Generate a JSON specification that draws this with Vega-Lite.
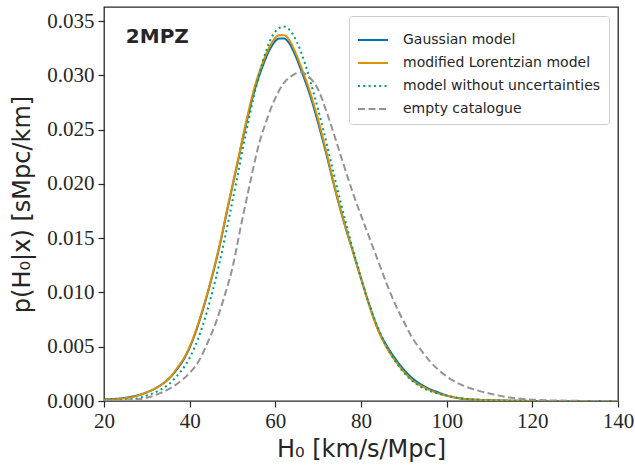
{
  "$schema": "https://vega.github.io/schema/vega-lite/v6.json",
  "width": 514,
  "height": 394,
  "autosize": "none",
  "padding": {"left": 104, "top": 7, "right": 17, "bottom": 68},
  "background": "white",
  "config": {
    "view": {"stroke": "#262626", "strokeWidth": 1.3},
    "axis": {"labelFont": "Liberation Serif", "labelFontSize": 21, "labelColor": "#262626", "tickColor": "#262626", "tickSize": 6, "tickWidth": 1.2, "domain": false, "grid": false, "titleFont": "DejaVu Sans", "titleFontSize": 24, "titleFontWeight": "normal", "titleColor": "#262626"},
    "legend": {"orient": "top-right", "offset": 9, "symbolType": "stroke", "symbolStrokeWidth": 2, "symbolSize": 900, "rowPadding": -5, "labelOffset": 14, "labelLimit": 0, "labelFont": "DejaVu Sans", "labelFontSize": 14, "labelColor": "#262626", "fillColor": "white", "strokeColor": "#cccccc", "cornerRadius": 3, "padding": 8}
  },
  "layer": [
    {
      "data": {"values": [
        {"s": "Gaussian model", "H": 20, "p": 0.00015},
        {"s": "Gaussian model", "H": 24, "p": 0.00025},
        {"s": "Gaussian model", "H": 27, "p": 0.00045},
        {"s": "Gaussian model", "H": 30, "p": 0.0008},
        {"s": "Gaussian model", "H": 33, "p": 0.0014},
        {"s": "Gaussian model", "H": 35, "p": 0.0020},
        {"s": "Gaussian model", "H": 37, "p": 0.0029},
        {"s": "Gaussian model", "H": 39, "p": 0.0041},
        {"s": "Gaussian model", "H": 41, "p": 0.0059},
        {"s": "Gaussian model", "H": 43, "p": 0.0083},
        {"s": "Gaussian model", "H": 45, "p": 0.0111},
        {"s": "Gaussian model", "H": 47, "p": 0.0143},
        {"s": "Gaussian model", "H": 49, "p": 0.0180},
        {"s": "Gaussian model", "H": 51, "p": 0.0216},
        {"s": "Gaussian model", "H": 53, "p": 0.0252},
        {"s": "Gaussian model", "H": 55, "p": 0.0284},
        {"s": "Gaussian model", "H": 57, "p": 0.0308},
        {"s": "Gaussian model", "H": 59, "p": 0.0326},
        {"s": "Gaussian model", "H": 61, "p": 0.0334},
        {"s": "Gaussian model", "H": 62, "p": 0.0334},
        {"s": "Gaussian model", "H": 63, "p": 0.0331},
        {"s": "Gaussian model", "H": 64.6, "p": 0.0319},
        {"s": "Gaussian model", "H": 66, "p": 0.0305},
        {"s": "Gaussian model", "H": 68, "p": 0.0283},
        {"s": "Gaussian model", "H": 70, "p": 0.0256},
        {"s": "Gaussian model", "H": 72, "p": 0.0226},
        {"s": "Gaussian model", "H": 74, "p": 0.0194},
        {"s": "Gaussian model", "H": 76, "p": 0.0165},
        {"s": "Gaussian model", "H": 78, "p": 0.0139},
        {"s": "Gaussian model", "H": 80, "p": 0.0113},
        {"s": "Gaussian model", "H": 82, "p": 0.0088},
        {"s": "Gaussian model", "H": 84, "p": 0.0066},
        {"s": "Gaussian model", "H": 86, "p": 0.0051},
        {"s": "Gaussian model", "H": 88, "p": 0.0039},
        {"s": "Gaussian model", "H": 90, "p": 0.0029},
        {"s": "Gaussian model", "H": 92, "p": 0.0021},
        {"s": "Gaussian model", "H": 95, "p": 0.0013},
        {"s": "Gaussian model", "H": 98, "p": 0.0008},
        {"s": "Gaussian model", "H": 101, "p": 0.0004},
        {"s": "Gaussian model", "H": 104, "p": 0.0002},
        {"s": "Gaussian model", "H": 108, "p": 0.0001},
        {"s": "Gaussian model", "H": 115, "p": 0.00003},
        {"s": "Gaussian model", "H": 125, "p": 0},
        {"s": "Gaussian model", "H": 140, "p": 0},
        {"s": "modified Lorentzian model", "H": 20, "p": 0.0001},
        {"s": "modified Lorentzian model", "H": 24, "p": 0.0002},
        {"s": "modified Lorentzian model", "H": 27, "p": 0.0004},
        {"s": "modified Lorentzian model", "H": 30, "p": 0.0008},
        {"s": "modified Lorentzian model", "H": 33, "p": 0.0014},
        {"s": "modified Lorentzian model", "H": 35, "p": 0.0020},
        {"s": "modified Lorentzian model", "H": 37, "p": 0.0030},
        {"s": "modified Lorentzian model", "H": 39, "p": 0.0042},
        {"s": "modified Lorentzian model", "H": 41, "p": 0.0060},
        {"s": "modified Lorentzian model", "H": 43, "p": 0.0084},
        {"s": "modified Lorentzian model", "H": 45, "p": 0.0112},
        {"s": "modified Lorentzian model", "H": 47, "p": 0.0144},
        {"s": "modified Lorentzian model", "H": 49, "p": 0.0181},
        {"s": "modified Lorentzian model", "H": 51, "p": 0.0217},
        {"s": "modified Lorentzian model", "H": 53, "p": 0.0254},
        {"s": "modified Lorentzian model", "H": 55, "p": 0.0287},
        {"s": "modified Lorentzian model", "H": 57, "p": 0.0311},
        {"s": "modified Lorentzian model", "H": 59, "p": 0.0329},
        {"s": "modified Lorentzian model", "H": 61, "p": 0.0337},
        {"s": "modified Lorentzian model", "H": 62, "p": 0.0337},
        {"s": "modified Lorentzian model", "H": 63, "p": 0.0334},
        {"s": "modified Lorentzian model", "H": 64.6, "p": 0.0322},
        {"s": "modified Lorentzian model", "H": 66, "p": 0.0308},
        {"s": "modified Lorentzian model", "H": 68, "p": 0.0286},
        {"s": "modified Lorentzian model", "H": 70, "p": 0.0259},
        {"s": "modified Lorentzian model", "H": 72, "p": 0.0228},
        {"s": "modified Lorentzian model", "H": 74, "p": 0.0195},
        {"s": "modified Lorentzian model", "H": 76, "p": 0.0166},
        {"s": "modified Lorentzian model", "H": 78, "p": 0.0139},
        {"s": "modified Lorentzian model", "H": 80, "p": 0.0113},
        {"s": "modified Lorentzian model", "H": 82, "p": 0.0087},
        {"s": "modified Lorentzian model", "H": 84, "p": 0.0065},
        {"s": "modified Lorentzian model", "H": 86, "p": 0.0049},
        {"s": "modified Lorentzian model", "H": 88, "p": 0.0037},
        {"s": "modified Lorentzian model", "H": 90, "p": 0.0027},
        {"s": "modified Lorentzian model", "H": 92, "p": 0.0019},
        {"s": "modified Lorentzian model", "H": 95, "p": 0.0012},
        {"s": "modified Lorentzian model", "H": 98, "p": 0.0007},
        {"s": "modified Lorentzian model", "H": 101, "p": 0.0004},
        {"s": "modified Lorentzian model", "H": 104, "p": 0.0002},
        {"s": "modified Lorentzian model", "H": 108, "p": 0.0001},
        {"s": "modified Lorentzian model", "H": 115, "p": 0.00003},
        {"s": "modified Lorentzian model", "H": 125, "p": 0},
        {"s": "modified Lorentzian model", "H": 140, "p": 0},
        {"s": "model without uncertainties", "H": 20, "p": 0.00002},
        {"s": "model without uncertainties", "H": 24, "p": 0.00008},
        {"s": "model without uncertainties", "H": 27, "p": 0.0002},
        {"s": "model without uncertainties", "H": 30, "p": 0.0005},
        {"s": "model without uncertainties", "H": 33, "p": 0.0010},
        {"s": "model without uncertainties", "H": 35, "p": 0.0015},
        {"s": "model without uncertainties", "H": 37, "p": 0.0023},
        {"s": "model without uncertainties", "H": 39, "p": 0.0033},
        {"s": "model without uncertainties", "H": 41, "p": 0.0048},
        {"s": "model without uncertainties", "H": 43, "p": 0.0069},
        {"s": "model without uncertainties", "H": 45, "p": 0.0096},
        {"s": "model without uncertainties", "H": 47, "p": 0.0128},
        {"s": "model without uncertainties", "H": 49, "p": 0.0165},
        {"s": "model without uncertainties", "H": 51, "p": 0.0204},
        {"s": "model without uncertainties", "H": 53, "p": 0.0244},
        {"s": "model without uncertainties", "H": 55, "p": 0.0281},
        {"s": "model without uncertainties", "H": 57, "p": 0.0312},
        {"s": "model without uncertainties", "H": 59, "p": 0.0334},
        {"s": "model without uncertainties", "H": 61, "p": 0.0344},
        {"s": "model without uncertainties", "H": 62, "p": 0.0345},
        {"s": "model without uncertainties", "H": 63, "p": 0.0343},
        {"s": "model without uncertainties", "H": 65, "p": 0.0331},
        {"s": "model without uncertainties", "H": 67, "p": 0.0310},
        {"s": "model without uncertainties", "H": 69, "p": 0.0283},
        {"s": "model without uncertainties", "H": 71, "p": 0.0253},
        {"s": "model without uncertainties", "H": 73, "p": 0.0220},
        {"s": "model without uncertainties", "H": 75, "p": 0.0187},
        {"s": "model without uncertainties", "H": 77, "p": 0.0156},
        {"s": "model without uncertainties", "H": 79, "p": 0.0127},
        {"s": "model without uncertainties", "H": 81, "p": 0.0100},
        {"s": "model without uncertainties", "H": 83, "p": 0.0077},
        {"s": "model without uncertainties", "H": 85, "p": 0.0058},
        {"s": "model without uncertainties", "H": 87, "p": 0.0043},
        {"s": "model without uncertainties", "H": 89, "p": 0.0031},
        {"s": "model without uncertainties", "H": 91, "p": 0.0022},
        {"s": "model without uncertainties", "H": 94, "p": 0.0013},
        {"s": "model without uncertainties", "H": 97, "p": 0.0008},
        {"s": "model without uncertainties", "H": 100, "p": 0.0005},
        {"s": "model without uncertainties", "H": 104, "p": 0.0002},
        {"s": "model without uncertainties", "H": 108, "p": 0.0001},
        {"s": "model without uncertainties", "H": 115, "p": 0.00002},
        {"s": "model without uncertainties", "H": 125, "p": 0},
        {"s": "model without uncertainties", "H": 140, "p": 0},
        {"s": "empty catalogue", "H": 20, "p": 0},
        {"s": "empty catalogue", "H": 24, "p": 0.00003},
        {"s": "empty catalogue", "H": 27, "p": 0.0001},
        {"s": "empty catalogue", "H": 30, "p": 0.0003},
        {"s": "empty catalogue", "H": 33, "p": 0.0007},
        {"s": "empty catalogue", "H": 36, "p": 0.0013},
        {"s": "empty catalogue", "H": 39, "p": 0.0022},
        {"s": "empty catalogue", "H": 42, "p": 0.0036},
        {"s": "empty catalogue", "H": 44, "p": 0.0052},
        {"s": "empty catalogue", "H": 46, "p": 0.0071},
        {"s": "empty catalogue", "H": 48, "p": 0.0095},
        {"s": "empty catalogue", "H": 50, "p": 0.0123},
        {"s": "empty catalogue", "H": 52, "p": 0.0162},
        {"s": "empty catalogue", "H": 54, "p": 0.0199},
        {"s": "empty catalogue", "H": 56, "p": 0.0234},
        {"s": "empty catalogue", "H": 58, "p": 0.0259},
        {"s": "empty catalogue", "H": 60, "p": 0.0279},
        {"s": "empty catalogue", "H": 62, "p": 0.0293},
        {"s": "empty catalogue", "H": 64, "p": 0.0300},
        {"s": "empty catalogue", "H": 66, "p": 0.0303},
        {"s": "empty catalogue", "H": 68, "p": 0.0298},
        {"s": "empty catalogue", "H": 70, "p": 0.0287},
        {"s": "empty catalogue", "H": 72, "p": 0.0266},
        {"s": "empty catalogue", "H": 74, "p": 0.0242},
        {"s": "empty catalogue", "H": 76, "p": 0.0217},
        {"s": "empty catalogue", "H": 78, "p": 0.0193},
        {"s": "empty catalogue", "H": 80, "p": 0.0171},
        {"s": "empty catalogue", "H": 82, "p": 0.0150},
        {"s": "empty catalogue", "H": 84, "p": 0.0129},
        {"s": "empty catalogue", "H": 86, "p": 0.0108},
        {"s": "empty catalogue", "H": 88, "p": 0.0089},
        {"s": "empty catalogue", "H": 90, "p": 0.0073},
        {"s": "empty catalogue", "H": 92, "p": 0.0058},
        {"s": "empty catalogue", "H": 94, "p": 0.0047},
        {"s": "empty catalogue", "H": 96, "p": 0.0037},
        {"s": "empty catalogue", "H": 98, "p": 0.0029},
        {"s": "empty catalogue", "H": 101, "p": 0.0020},
        {"s": "empty catalogue", "H": 104, "p": 0.0014},
        {"s": "empty catalogue", "H": 107, "p": 0.0010},
        {"s": "empty catalogue", "H": 111, "p": 0.0006},
        {"s": "empty catalogue", "H": 115, "p": 0.0003},
        {"s": "empty catalogue", "H": 119, "p": 0.00015},
        {"s": "empty catalogue", "H": 125, "p": 0.00005},
        {"s": "empty catalogue", "H": 132, "p": 0.00001},
        {"s": "empty catalogue", "H": 140, "p": 0}
      ]},
      "mark": {"type": "line", "interpolate": "monotone", "strokeWidth": 2, "clip": true},
      "encoding": {
        "x": {"field": "H", "type": "quantitative", "scale": {"domain": [20, 140], "nice": false, "zero": false},
              "axis": {"values": [20, 40, 60, 80, 100, 120, 140], "title": "H₀ [km/s/Mpc]", "labelPadding": 3, "titlePadding": 6, "labelFlush": false}},
        "y": {"field": "p", "type": "quantitative", "scale": {"domain": [0, 0.0363], "nice": false},
              "axis": {"values": [0, 0.005, 0.01, 0.015, 0.02, 0.025, 0.03, 0.035], "format": ".3f", "title": "p(H₀|x) [sMpc/km]", "labelPadding": 4, "titlePadding": 12}},
        "color": {"field": "s", "type": "nominal", "sort": null,
                  "scale": {"domain": ["Gaussian model", "modified Lorentzian model", "model without uncertainties", "empty catalogue"], "range": ["#0173b2", "#de8f05", "#029e73", "#949494"]},
                  "legend": {"title": null}},
        "strokeDash": {"field": "s", "type": "nominal", "sort": null,
                  "scale": {"domain": ["Gaussian model", "modified Lorentzian model", "model without uncertainties", "empty catalogue"], "range": [[1, 0], [1, 0], [2, 3.3], [7, 3.5]]},
                  "legend": {"title": null}}
      }
    },
    {
      "data": {"values": [{"label": "2MPZ"}]},
      "mark": {"type": "text", "font": "DejaVu Sans", "fontWeight": "bold", "fontSize": 20, "align": "left", "baseline": "alphabetic", "color": "#262626"},
      "encoding": {
        "text": {"field": "label"},
        "x": {"datum": 25.1, "type": "quantitative"},
        "y": {"datum": 0.0330, "type": "quantitative"}
      }
    }
  ]
}
